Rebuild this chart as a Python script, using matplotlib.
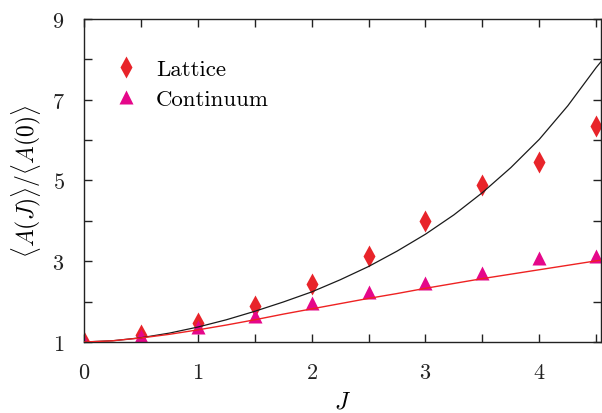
import matplotlib
matplotlib.use("Agg")
import matplotlib.pyplot as plt
from matplotlib.ticker import FixedLocator, MultipleLocator

# measured ratios <A(J)>/<A(0)>
J_POINTS = [0.0, 0.5, 1.0, 1.5, 2.0, 2.5, 3.0, 3.5, 4.0, 4.5]
LATTICE = [1.0, 1.17, 1.48, 1.89, 2.44, 3.14, 4.0, 4.89, 5.46, 6.35]
CONTINUUM = [1.0, 1.15, 1.37, 1.64, 1.96, 2.23, 2.47, 2.72, 3.07, 3.12]

# model curves, tabulated on a fine grid
J_CURVE = [0.0, 0.25, 0.5, 0.75, 1.0, 1.25, 1.5, 1.75, 2.0, 2.25, 2.5,
           2.75, 3.0, 3.25, 3.5, 3.75, 4.0, 4.25, 4.5, 4.55]
CURVE_BLACK = [1.0, 1.03, 1.105, 1.22, 1.37, 1.55, 1.76, 1.99, 2.24, 2.54,
               2.87, 3.25, 3.67, 4.15, 4.70, 5.32, 6.02, 6.85, 7.80, 7.97]
CURVE_RED = [1.0, 1.03, 1.10, 1.19, 1.30, 1.42, 1.55, 1.69, 1.82, 1.95,
             2.08, 2.20, 2.33, 2.45, 2.57, 2.68, 2.79, 2.90, 3.01, 3.03]

Y_TICKS = [1, 3, 5, 7, 9]
Y_MINOR = [2, 4, 6, 8]

plt.rcParams["font.family"] = "serif"
plt.rcParams["font.serif"] = ["cmr10", "DejaVu Serif"]
plt.rcParams["mathtext.fontset"] = "cm"
plt.rcParams["axes.formatter.use_mathtext"] = True

fig = plt.figure(figsize=(6.02, 4.14), dpi=100)
ax = fig.add_axes([0.1395, 0.1715, 0.8585, 0.7802])

ax.plot(J_CURVE, CURVE_BLACK, color="#1a1a1a", lw=0.9, zorder=3)
ax.plot(J_CURVE, CURVE_RED, color="#ee2222", lw=1.0, zorder=3)
ax.plot(J_POINTS, LATTICE, ls="none", marker="d", ms=11, color="#e8242a",
        mec="none", label="Lattice", zorder=2)
ax.plot(J_POINTS, CONTINUUM, ls="none", marker="^", ms=10, color="#e5078a",
        mec="none", label="Continuum", zorder=2)

ax.set_xlim(0, 4.54)
ax.set_ylim(1, 9)
ax.xaxis.set_major_locator(MultipleLocator(1))
ax.xaxis.set_minor_locator(MultipleLocator(0.5))
ax.yaxis.set_major_locator(FixedLocator(Y_TICKS))
ax.yaxis.set_minor_locator(FixedLocator(Y_MINOR))
ax.tick_params(which="both", direction="in", top=True, right=True,
               labelsize=16, colors="#222222")
ax.tick_params(which="major", length=6, width=1.0)
ax.tick_params(which="minor", length=6, width=1.0)
ax.tick_params(axis="x", which="major", pad=15)
ax.tick_params(axis="y", which="major", pad=14)
for spine in ax.spines.values():
    spine.set_color("#222222")
    spine.set_linewidth(1.0)

ax.set_xlabel(r"$J$", fontsize=17, labelpad=6)
ax.set_ylabel(r"$\langle A(J)\rangle/\langle A(0)\rangle$", fontsize=17,
              labelpad=6)

ax.legend(loc="upper left", bbox_to_anchor=(0.015, 0.94), frameon=False,
          fontsize=16.5, handletextpad=0.7, labelspacing=0.42,
          handlelength=1.2)

fig.savefig("out.png", dpi=100)
